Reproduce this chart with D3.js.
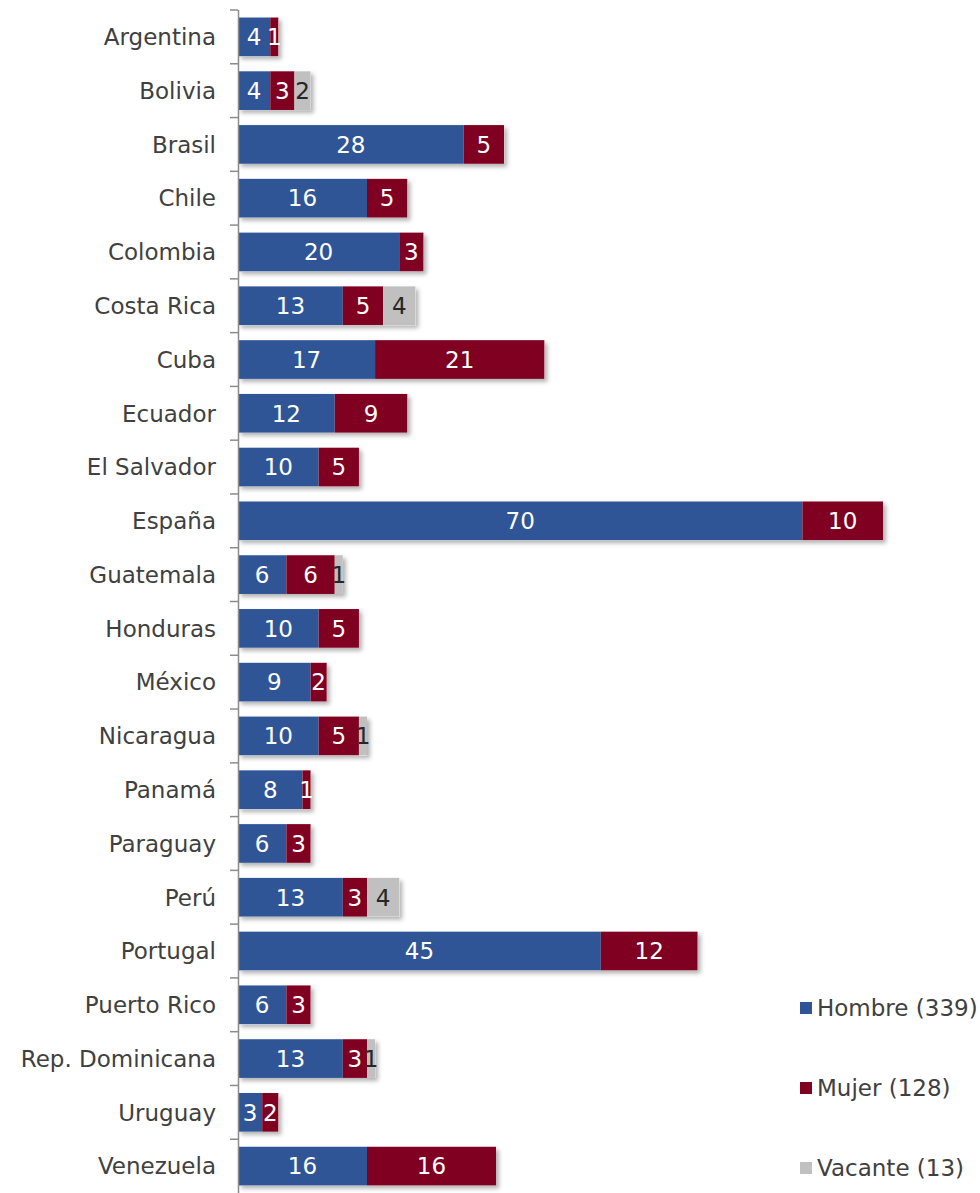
<!DOCTYPE html>
<html>
<head>
<meta charset="utf-8">
<script src="https://cdn.jsdelivr.net/npm/d3@7"></script>
<style>
  body { margin: 0; background: #fff; }
  svg { font-family: "DejaVu Sans", sans-serif; }
  .cat-label { fill: #404040; font-size: 23px; }
  .val-label { font-size: 23px; }
  .legend-label { fill: #404040; font-size: 23px; }
</style>
</head>
<body>
<svg id="chart" width="980" height="1193"></svg>
<script>
// data
const countries = ['Argentina', 'Bolivia', 'Brasil', 'Chile', 'Colombia', 'Costa Rica', 'Cuba',
    'Ecuador', 'El Salvador', 'España', 'Guatemala', 'Honduras', 'México', 'Nicaragua', 'Panamá',
    'Paraguay', 'Perú', 'Portugal', 'Puerto Rico', 'Rep. Dominicana', 'Uruguay', 'Venezuela'];
const hombre  = [4, 4, 28, 16, 20, 13, 17, 12, 10, 70, 6, 10, 9, 10, 8, 6, 13, 45, 6, 13, 3, 16];
const mujer   = [1, 3, 5, 5, 3, 5, 21, 9, 5, 10, 6, 5, 2, 5, 1, 3, 3, 12, 3, 3, 2, 16];
const vacante = [0, 2, 0, 0, 0, 4, 0, 0, 0, 0, 1, 0, 0, 1, 0, 0, 4, 0, 0, 1, 0, 0];
const seriesNames = ['Hombre (339)', 'Mujer (128)', 'Vacante (13)'];
const seriesColors = ['#2F5597', '#7F0020', '#C0C0C0'];
const labelColors = ['#ffffff', '#ffffff', '#262626'];

const width = 980, height = 1193;
const margin = { top: 10, right: 97, bottom: 0, left: 238 };

const svg = d3.select('#chart');

// drop shadow under bars
const defs = svg.append('defs');
const filter = defs.append('filter').attr('id', 'shadow')
    .attr('x', '-10%').attr('y', '-20%').attr('width', '130%').attr('height', '160%');
filter.append('feDropShadow')
    .attr('dx', 3).attr('dy', 3).attr('stdDeviation', 2)
    .attr('flood-color', '#000').attr('flood-opacity', 0.3);

const rows = countries.map((c, i) => ({ country: c, values: [hombre[i], mujer[i], vacante[i]] }));
const stacked = d3.stack().keys([0, 1, 2]).value((d, k) => d.values[k])(rows);

// scales
const xScale = d3.scaleLinear()
    .domain([0, 80])
    .range([margin.left, 883]);

const yScale = d3.scaleBand()
    .domain(countries)
    .range([margin.top, height])
    .paddingInner(0.28)
    .paddingOuter(0.14);

// bars
const chart = svg.append('g');
const layers = chart.selectAll('.layer')
    .data(stacked)
    .join('g')
    .attr('class', 'layer')
    .attr('fill', (d, i) => seriesColors[i]);

// shadow layer drawn first as whole bars
chart.insert('g', '.layer')
    .attr('filter', 'url(#shadow)')
    .selectAll('rect')
    .data(rows)
    .join('rect')
    .attr('x', xScale(0))
    .attr('y', d => yScale(d.country))
    .attr('width', d => xScale(d3.sum(d.values)) - xScale(0))
    .attr('height', yScale.bandwidth())
    .attr('fill', '#fff');

layers.selectAll('rect')
    .data(d => d.filter(s => s[1] > s[0]))
    .join('rect')
    .attr('x', d => xScale(d[0]))
    .attr('y', d => yScale(d.data.country))
    .attr('width', d => xScale(d[1]) - xScale(d[0]))
    .attr('height', yScale.bandwidth());

// value labels
stacked.forEach((layer, i) => {
    chart.append('g')
        .selectAll('text')
        .data(layer.filter(s => s[1] > s[0]))
        .join('text')
        .attr('class', 'val-label')
        .attr('x', d => (xScale(d[0]) + xScale(d[1])) / 2)
        .attr('y', d => yScale(d.data.country) + yScale.bandwidth() / 2)
        .attr('dy', '0.36em')
        .attr('text-anchor', 'middle')
        .attr('fill', labelColors[i])
        .text(d => d[1] - d[0]);
});

// axis line and ticks between categories
const axisG = svg.append('g');
axisG.append('line')
    .attr('x1', margin.left + 0.5).attr('x2', margin.left + 0.5)
    .attr('y1', margin.top).attr('y2', height)
    .attr('stroke', '#8c8c8c').attr('stroke-width', 1.5);

const step = yScale.step();
const tickYs = d3.range(countries.length).map(i => yScale(countries[i]) - yScale.paddingOuter() * step);
axisG.selectAll('.tick')
    .data(tickYs)
    .join('line')
    .attr('class', 'tick')
    .attr('x1', margin.left - 8).attr('x2', margin.left)
    .attr('y1', d => d).attr('y2', d => d)
    .attr('stroke', '#8c8c8c').attr('stroke-width', 1.5);

// category labels
svg.append('g')
    .selectAll('text')
    .data(countries)
    .join('text')
    .attr('class', 'cat-label')
    .attr('x', 216)
    .attr('y', d => yScale(d) + yScale.bandwidth() / 2)
    .attr('dy', '0.36em')
    .attr('text-anchor', 'end')
    .text(d => d);

// legend
const legendYs = [1008, 1088, 1168];
const legend = svg.append('g')
    .selectAll('g')
    .data(seriesNames)
    .join('g')
    .attr('transform', (d, i) => `translate(800,${legendYs[i]})`);

legend.append('rect')
    .attr('x', 0).attr('y', -6)
    .attr('width', 12).attr('height', 12)
    .attr('fill', (d, i) => seriesColors[i]);

legend.append('text')
    .attr('class', 'legend-label')
    .attr('x', 17)
    .attr('dy', '0.36em')
    .text(d => d);
</script>
</body>
</html>
